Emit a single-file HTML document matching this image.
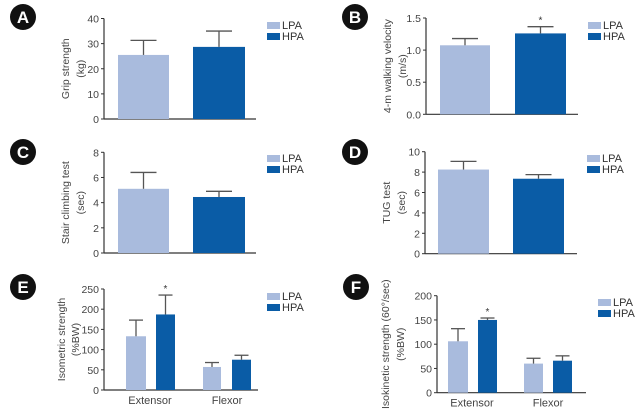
<!DOCTYPE html>
<html><head><meta charset="utf-8"><style>
body{margin:0;background:#fff;width:642px;height:416px;overflow:hidden}
svg{display:block;font-family:"Liberation Sans",sans-serif}
</style></head><body>
<svg id="fig" width="642" height="416" viewBox="0 0 642 416"></svg>
<script>
// Data
const groups = ["LPA","HPA"];
const gripMean = [25.5, 28.7];      const gripErr = [5.8, 6.3];
const walkMean = [1.075, 1.26];     const walkErr = [0.105, 0.105];
const stairMean = [5.1, 4.45];      const stairErr = [1.3, 0.45];
const tugMean = [8.25, 7.35];       const tugErr = [0.8, 0.4];
const muscleCats = ["Extensor","Flexor"];
const isoMetLPA = [133, 57];        const isoMetLPAErr = [40, 11];
const isoMetHPA = [187, 75];        const isoMetHPAErr = [48, 11];
const isoKinLPA = [106, 60];        const isoKinLPAErr = [26, 11];
const isoKinHPA = [150, 66];        const isoKinHPAErr = [4, 10];
const ticksA = [0,10,20,30,40];
const ticksB = ["0.0","0.5","1.0","1.5"];
const ticksC = [0,2,4,6,8];
const ticksD = [0,2,4,6,8,10];
const ticksE = [0,50,100,150,200,250];
const ticksF = [0,50,100,150,200];

const NS="http://www.w3.org/2000/svg";
const svg=document.getElementById('fig');
const COL=["#a9bbdd","#0a5ca6"];
function mk(tag,attrs,parent){const e=document.createElementNS(NS,tag);for(const k in attrs)e.setAttribute(k,attrs[k]);(parent||svg).appendChild(e);return e;}

function panel(p){
  const g=mk('g',{});
  
  
  const yMax=parseFloat(p.ticks[p.ticks.length-1]);
  const y=v=>p.y0-(v/yMax)*(p.y0-p.yTop);
  const b=mk('g',{},g);
  
  
  mk('circle',{cx:p.bx,cy:p.by,r:13,fill:'#111'},b);
  const bt=mk('text',{x:p.bx,y:p.by+6,'text-anchor':'middle','font-size':17,'font-weight':'bold',fill:'#fff'},b);bt.textContent=p.letter;
  const ax=mk('g',{},g);
  
  
  mk('line',{x1:p.ax,y1:p.yTop,x2:p.ax,y2:p.y0,stroke:'#333','stroke-width':1.2},ax);
  mk('line',{x1:p.ax,y1:p.y0,x2:p.xEnd,y2:p.y0,stroke:'#333','stroke-width':1.2},g);
  p.ticks.forEach(t=>{const yy=y(parseFloat(t));
    mk('line',{x1:p.ax-3,y1:yy,x2:p.ax,y2:yy,stroke:'#333','stroke-width':1},ax);
    const tt=mk('text',{x:p.ax-5,y:yy+4,'text-anchor':'end','font-size':10.5,fill:'#444'},ax);tt.textContent=t;
    
    
  });
  const cy=(p.yTop+p.y0)/2;
  const o1=p.o1||35, o2=p.o2||20;
  const t1=mk('text',{x:0,y:0,'text-anchor':'middle','font-size':10.5,fill:'#444',transform:`translate(${p.ax-o1},${cy}) rotate(-90)`},g);t1.textContent=p.title1;
  
  
  const t2=mk('text',{x:0,y:0,'text-anchor':'middle','font-size':10.5,fill:'#444',transform:`translate(${p.ax-o2},${cy}) rotate(-90)`},g);t2.textContent=p.title2;
  
  
  p.bars.forEach(bar=>{
    const r=mk('rect',{x:bar.x,y:y(bar.v),width:bar.w,height:p.y0-y(bar.v),fill:COL[bar.c]},g);
    
    
    const cx=bar.x+bar.w/2, top=y(bar.v+bar.e);
    const eb=mk('g',{},g);
    
    
    mk('line',{x1:cx,y1:y(bar.v),x2:cx,y2:top,stroke:'#555','stroke-width':1.3},eb);
    mk('line',{x1:cx-bar.cap,y1:top,x2:cx+bar.cap,y2:top,stroke:'#555','stroke-width':1.3},eb);
    if(bar.star){const s=mk('text',{x:cx,y:top-3,'text-anchor':'middle','font-size':10,fill:'#333'},g);s.textContent='*';
      
      }
  });
  (p.cats||[]).forEach(c=>{const t=mk('text',{x:c.x,y:p.y0+14,'text-anchor':'middle','font-size':11,fill:'#444'},g);t.textContent=c.t;
    
    });
  groups.forEach((gname,i)=>{
    const le=mk('g',{},g);
    
    
    mk('rect',{x:p.lx,y:p.ly+i*11,width:13,height:7,fill:COL[i]},le);
    const lt=mk('text',{x:p.lx+15,y:p.ly+i*11+7,'font-size':11,fill:'#333'},le);lt.textContent=gname;
  });
}

panel({letter:'A',bx:23,by:17,ax:104,yTop:18.5,y0:119,xEnd:256,ticks:ticksA,title1:'Grip strength',title2:'(kg)',lx:267,ly:22,
  bars:[{name:'lpa',x:118,w:51,v:gripMean[0],e:gripErr[0],c:0,cap:13},{name:'hpa',x:193,w:52,v:gripMean[1],e:gripErr[1],c:1,cap:13}]});
panel({letter:'B',bx:355,by:17,ax:426,yTop:18,y0:114.3,xEnd:578,ticks:ticksB,title1:'4-m walking velocity',title2:'(m/s)',lx:588,ly:22,
  bars:[{name:'lpa',x:440,w:50,v:walkMean[0],e:walkErr[0],c:0,cap:13},{name:'hpa',x:515,w:51,v:walkMean[1],e:walkErr[1],c:1,cap:13,star:true}]});
panel({letter:'C',bx:23,by:152,ax:104,yTop:152.3,y0:253,xEnd:256,ticks:ticksC,title1:'Stair climbing test',title2:'(sec)',lx:267,ly:155,
  bars:[{name:'lpa',x:118,w:51,v:stairMean[0],e:stairErr[0],c:0,cap:13},{name:'hpa',x:193,w:52,v:stairMean[1],e:stairErr[1],c:1,cap:13}]});
panel({letter:'D',bx:355,by:152,ax:425,yTop:151.7,y0:253.7,xEnd:577,ticks:ticksD,title1:'TUG test',title2:'(sec)',lx:587,ly:155,
  bars:[{name:'lpa',x:438,w:51,v:tugMean[0],e:tugErr[0],c:0,cap:13},{name:'hpa',x:513,w:51,v:tugMean[1],e:tugErr[1],c:1,cap:13}]});
panel({letter:'E',bx:23,by:287,ax:104,yTop:289,y0:390,xEnd:258,ticks:ticksE,title1:'Isometric strength',title2:'(%BW)',lx:267,ly:293,o1:39,o2:25,
  cats:[{x:150,t:muscleCats[0]},{x:227,t:muscleCats[1]}],
  bars:[{name:'extensor-lpa',x:126,w:20,v:isoMetLPA[0],e:isoMetLPAErr[0],c:0,cap:7},{name:'extensor-hpa',x:156,w:19,v:isoMetHPA[0],e:isoMetHPAErr[0],c:1,cap:7,star:true},
        {name:'flexor-lpa',x:203,w:18,v:isoMetLPA[1],e:isoMetLPAErr[1],c:0,cap:7},{name:'flexor-hpa',x:232,w:19,v:isoMetHPA[1],e:isoMetHPAErr[1],c:1,cap:7}]});
panel({letter:'F',bx:356,by:287,ax:437,yTop:295.7,y0:392.7,xEnd:586,ticks:ticksF,title1:'Isokinetic strength (60°/sec)',title2:'(%BW)',lx:598,ly:299,o1:48,o2:33,
  cats:[{x:472,t:muscleCats[0]},{x:548,t:muscleCats[1]}],
  bars:[{name:'extensor-lpa',x:448,w:20,v:isoKinLPA[0],e:isoKinLPAErr[0],c:0,cap:7},{name:'extensor-hpa',x:478,w:19,v:isoKinHPA[0],e:isoKinHPAErr[0],c:1,cap:7,star:true},
        {name:'flexor-lpa',x:524,w:19,v:isoKinLPA[1],e:isoKinLPAErr[1],c:0,cap:7},{name:'flexor-hpa',x:553,w:19,v:isoKinHPA[1],e:isoKinHPAErr[1],c:1,cap:7}]});
</script>
</body></html>
